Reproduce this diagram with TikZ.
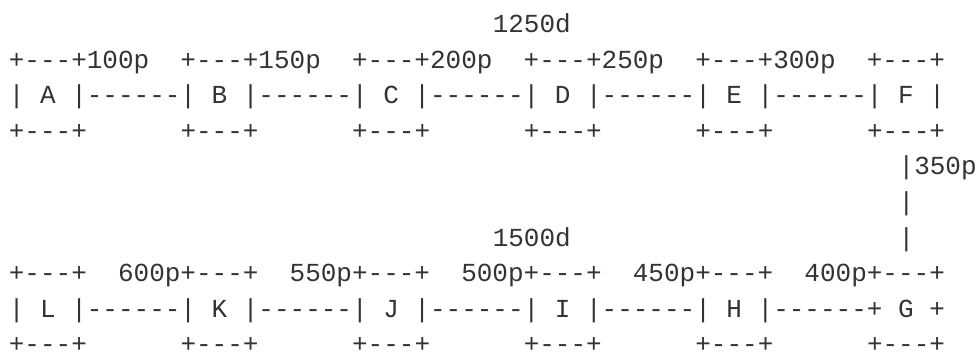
\documentclass[tikz,border=0pt]{standalone}
\usepackage{fontspec}
\setmonofont{Liberation Mono}
\usepackage{tikz}
\usepackage{xcolor}
\definecolor{asciigrey}{HTML}{333333}
\tikzset{
    ascii-line/.style = {anchor=base west, inner sep=0pt, outer sep=0pt, text=asciigrey, font=\ttfamily\fontsize{26}{35.57}\selectfont},
}

\begin{document}
\begin{tikzpicture}[x=15.61pt, y=-35.57pt]
\useasboundingbox (-0.570,0.081) rectangle (62.02,9.977);
% upper chain A..F
\node[ascii-line] (dist-top) at (31,1) {1250d};
\node[ascii-line] (top-roof) at (0,2) {+---+100p~~+---+150p~~+---+200p~~+---+250p~~+---+300p~~+---+};
\node[ascii-line] (top-mid)  at (0,3) {|~A~|------|~B~|------|~C~|------|~D~|------|~E~|------|~F~|};
\node[ascii-line] (top-base) at (0,4) {+---+~~~~~~+---+~~~~~~+---+~~~~~~+---+~~~~~~+---+~~~~~~+---+};
% link F--G
\node[ascii-line] (link-a) at (57,5) {|350p};
\node[ascii-line] (link-b) at (57,6) {|};
\node[ascii-line] (link-c) at (57,7) {|};
% lower chain L..G
\node[ascii-line] (dist-low) at (31,7) {1500d};
\node[ascii-line] (low-roof) at (0,8) {+---+~~600p+---+~~550p+---+~~500p+---+~~450p+---+~~400p+---+};
\node[ascii-line] (low-mid)  at (0,9) {|~L~|------|~K~|------|~J~|------|~I~|------|~H~|------+~G~+};
\node[ascii-line] (low-base) at (0,10) {+---+~~~~~~+---+~~~~~~+---+~~~~~~+---+~~~~~~+---+~~~~~~+---+};
\end{tikzpicture}
\end{document}
